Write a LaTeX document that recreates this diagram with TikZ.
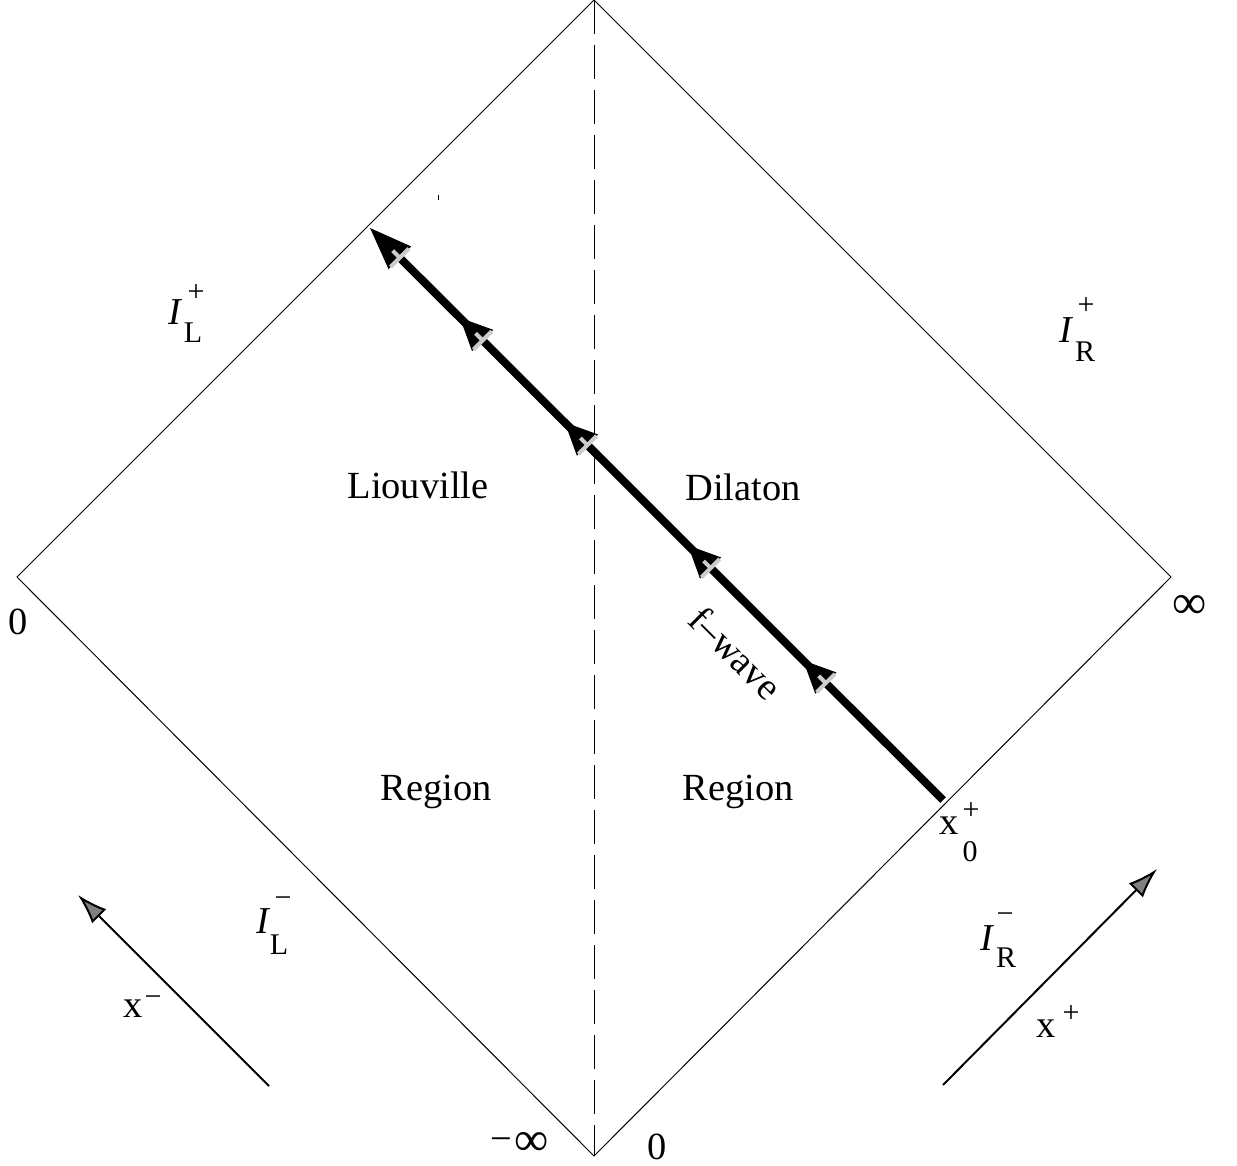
\documentclass[tikz,border=0pt]{standalone}
\usepackage{fontspec}
\setmainfont{Liberation Serif}
\usetikzlibrary{arrows.meta,decorations.markings}
\newcommand{\fwmidhead}{%
  \fill (0,0) -- (-16pt,7.5pt) -- (-16pt,-7.5pt) -- cycle;
  \draw[gray!40,line width=2pt] (-16pt,6.5pt) -- (-16pt,-6.5pt) (-16pt,0) -- (-11pt,0);}
\newcommand{\fwendhead}{%
  \fill (0,0) -- (-21pt,8pt) -- (-21pt,-8pt) -- cycle;
  \draw[gray!40,line width=2pt] (-21pt,6.5pt) -- (-21pt,-6.5pt) (-21pt,0) -- (-16pt,0);}
\begin{document}
\begin{tikzpicture}[x=0.5pt,y=-0.5pt,
  lbl/.style={font=\fontsize{19.2}{23}\selectfont, inner sep=0pt},
  ilbl/.style={font=\fontsize{19}{22}\selectfont\itshape, inner sep=0pt},
  slbl/.style={font=\fontsize{15}{17}\selectfont, inner sep=0pt},
  xlbl/.style={font=\fontsize{15}{17}\selectfont, inner sep=0pt},
  inflbl/.style={font=\fontsize{24}{27}\selectfont, inner sep=0pt},
  edgeline/.style={line width=0.5pt},
  dashline/.style={line width=0.5pt, dash pattern=on 17pt off 5.5pt},
  wave/.style={line width=4pt},
  axisarrow/.style={line width=1pt, -{Latex[length=15pt,width=10pt,fill=gray]}}]
\useasboundingbox (0,0) rectangle (1237,1166);

% diamond
\coordinate (T) at (594,0);
\coordinate (L) at (17,577);
\coordinate (R) at (1171,577);
\coordinate (Bt) at (594,1156);
\draw[edgeline] (T) -- (L) -- (Bt) -- (R) -- cycle;
\draw[dashline] (T) -- (Bt);

% f-wave
\coordinate (A) at (943,800);
\coordinate (B) at (370,228);
\draw[wave, shorten >=16pt] (A) -- (B);
\path[decoration={markings,
  mark=at position 0.244 with {\fwmidhead},
  mark=at position 0.445 with {\fwmidhead},
  mark=at position 0.660 with {\fwmidhead},
  mark=at position 0.843 with {\fwmidhead},
  mark=at position 0.9999 with {\fwendhead}}, postaction=decorate] (A) -- (B);
\node[lbl, rotate=-45] (fw) at (736,653) {f–wave};

% stray mark
\fill (437.5,195) rectangle (439,200);

% region labels
\node[lbl] (liou) at (418,485) {Liouville};
\node[lbl] (dil) at (743,487) {Dilaton};
\node[lbl] (regl) at (436,792) {Region};
\node[lbl] (regr) at (738,792) {Region};

% scri labels
\node[ilbl] (ilp) at (175,312) {I};
\node[slbl] (ilpsup) at (196,293) {+};
\node[slbl] (ilpsub) at (193,333) {L};
\node[ilbl] (irp) at (1066,330) {I};
\node[slbl] (irpsup) at (1086,306) {+};
\node[slbl] (irpsub) at (1085,352) {R};
\node[ilbl] (ilm) at (263,921) {I};
\node[slbl] (ilmsup) at (283,902) {−};
\node[slbl] (ilmsub) at (279,945) {L};
\node[ilbl] (irm) at (987,938) {I};
\node[slbl] (irmsup) at (1005,918) {−};
\node[slbl] (irmsub) at (1006,958) {R};

% coordinate values
\node[lbl] (zl) at (18,622) {0};
\node[inflbl] (infr) at (1190,607) {∞};
\node[lbl] (minf) at (501,1145) {−};
\node[inflbl] (minfb) at (532,1144) {∞};
\node[lbl] (zb) at (657,1147) {0};
\node[lbl] (x0) at (949,826) {x};
\node[xlbl] (x0sup) at (971,811) {+};
\node[xlbl] (x0sub) at (970,852) {0};

% axis arrows
\coordinate (xmtail) at (269,1086);
\coordinate (xmtip) at (78,895);
\draw[axisarrow] (xmtail) -- (xmtip);
\node[lbl] (xm) at (133,1009) {x};
\node[xlbl] (xmsup) at (153,1001) {−};
\coordinate (xptail) at (943,1085);
\coordinate (xptip) at (1157,869);
\draw[axisarrow] (xptail) -- (xptip);
\node[lbl] (xp) at (1046,1029) {x};
\node[xlbl] (xpsup) at (1071,1014) {+};
\end{tikzpicture}
\end{document}
